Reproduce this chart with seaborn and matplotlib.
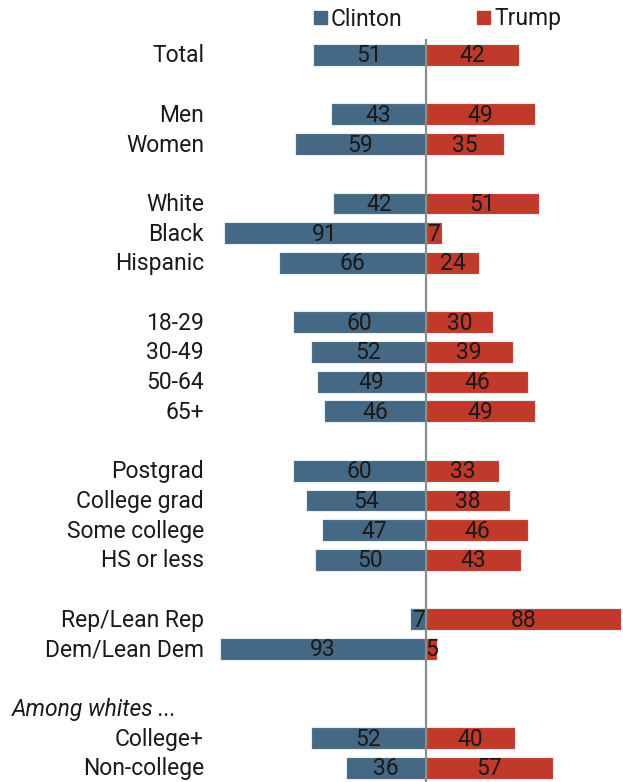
import matplotlib
matplotlib.use("Agg")
import matplotlib.pyplot as plt
import seaborn as sns
import pandas as pd
from matplotlib.patches import Rectangle

# ---- data ----
groups = [
    ["Total"],
    ["Men", "Women"],
    ["White", "Black", "Hispanic"],
    ["18-29", "30-49", "50-64", "65+"],
    ["Postgrad", "College grad", "Some college", "HS or less"],
    ["Rep/Lean Rep", "Dem/Lean Dem"],
    ["College+", "Non-college"],
]
group_header = [None, None, None, None, None, None, "Among whites ..."]
clinton = [51, 43, 59, 42, 91, 66, 60, 52, 49, 46, 60, 54, 47, 50, 7, 93, 52, 36]
trump = [42, 49, 35, 51, 7, 24, 30, 39, 46, 49, 33, 38, 46, 43, 88, 5, 40, 57]
legend_labels = ["Clinton", "Trump"]

CLINTON_C = "#456984"
TRUMP_C = "#c0392b"

# ---- layout of rows ----
cats, pos, headers = [], [], []
k = 0
for gi, g in enumerate(groups):
    if gi > 0:
        k += 1  # blank spacer row
    if group_header[gi]:
        headers.append((group_header[gi], k))
        k += 1
    for c in g:
        cats.append(c)
        pos.append(k)
        k += 1

df = pd.DataFrame({
    "category": cats * 2,
    "pos": pos * 2,
    "value": [-v for v in clinton] + trump,
    "candidate": ["Clinton"] * len(cats) + ["Trump"] * len(cats),
})

W, H = 623, 782
fig = plt.figure(figsize=(W / 100, H / 100), dpi=100)
ax = fig.add_axes([0, 0, 1, 1])

FONT = ["Roboto", "DejaVu Sans"]
plt.rcParams["font.family"] = FONT

sns.barplot(data=df, x="value", y="pos", hue="candidate", orient="h",
            native_scale=True, dodge=False, width=0.74, saturation=1,
            palette={"Clinton": CLINTON_C, "Trump": TRUMP_C},
            linewidth=0.8, edgecolor="#e6ecf0", legend=False, ax=ax)

# pixel mapping: centre at x=426px, 2.22 px per point; rows at 55 + 29.7*k px
center_px, ppu = 426, 2.22
row0, rowh = 55, 29.7
ax.set_xlim(-center_px / ppu, (W - center_px) / ppu)
ax.set_ylim((H - row0) / rowh, -row0 / rowh)
ax.axis("off")

ax.axvline(0, ymin=0, ymax=1 - 40 / H, color="#8c8c8c", lw=1.6, zorder=5)

fs = 16.5
txt_c = "#1a1a1a"
dy = 1.0 / rowh  # small downward nudge of text
label_x = (204 - center_px) / ppu
for c, p, cv, tv in zip(cats, pos, clinton, trump):
    ax.text(label_x, p + dy, c, ha="right", va="center", fontsize=fs, color=txt_c)
    ax.text(-cv / 2, p + dy, str(cv), ha="center", va="center", fontsize=fs, color=txt_c, zorder=6)
    ax.text(tv / 2, p + dy, str(tv), ha="center", va="center", fontsize=fs, color=txt_c, zorder=6)
for h, p in headers:
    ax.text((12 - center_px) / ppu, p + dy, h, ha="left", va="center", fontsize=fs,
            style="italic", color=txt_c)

# legend
for lab, col, x0 in zip(legend_labels, [CLINTON_C, TRUMP_C], [314, 477]):
    fig.patches.append(Rectangle((x0 / W, 1 - 24 / H), 13 / W, 13 / H,
                                 transform=fig.transFigure, color=col))
    fig.text((x0 + 17) / W, 1 - 19 / H, lab, ha="left", va="center",
             fontsize=fs, color=txt_c)

fig.savefig("out.png", dpi=100)
